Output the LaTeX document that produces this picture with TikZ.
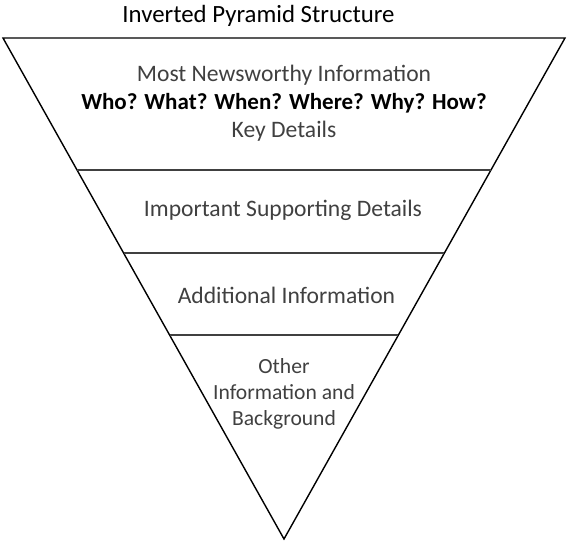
\documentclass[tikz,border=0pt]{standalone}
\usepackage{fontspec}
\setmainfont{Carlito}
\usetikzlibrary{calc}
\definecolor{txtgray}{HTML}{404040}
\tikzset{
  body/.style={text=txtgray, font=\fontsize{23.6}{28}\selectfont, align=center, inner sep=0pt},
  smallbody/.style={body, font=\fontsize{21.6}{26}\selectfont},
  divider/.style={draw=black!75, line width=1.1pt},
  outline/.style={draw=black, line width=1.4pt, line join=miter}
}
\begin{document}
\begin{tikzpicture}[x=1pt,y=-1pt]
\useasboundingbox (0,0) rectangle (568,542);
\coordinate (tl) at (3,38);
\coordinate (tr) at (565,38);
\coordinate (apex) at (284,539);
\node[font=\fontsize{24.8}{28}\selectfont, inner sep=0pt] (title) at (258.5,16) {Inverted Pyramid Structure};
\draw[outline] (tl) -- (tr) -- (apex) -- cycle;
\coordinate (l1) at ($(tl)!0.2635!(apex)$);
\coordinate (r1) at ($(tr)!0.2635!(apex)$);
\coordinate (l2) at ($(tl)!0.4291!(apex)$);
\coordinate (r2) at ($(tr)!0.4291!(apex)$);
\coordinate (l3) at ($(tl)!0.5928!(apex)$);
\coordinate (r3) at ($(tr)!0.5928!(apex)$);
\draw[divider] (l1) -- (r1);
\draw[divider] (l2) -- (r2);
\draw[divider] (l3) -- (r3);
\node[body] (t1) at (284,103) {Most Newsworthy Information\\{\color{black}\fontsize{23}{28}\selectfont\bfseries Who? What? When? Where? Why? How?}\\Key Details};
\node[body] (t2) at (283,210) {Important Supporting Details};
\node[body] (t3) at (286.5,295) {Additional Information};
\node[smallbody] (t4) at (284,394) {Other\\Information and\\Background};
\end{tikzpicture}
\end{document}
